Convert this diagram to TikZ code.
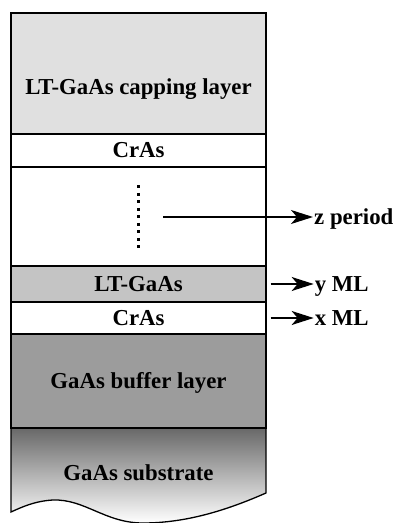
\documentclass[tikz,border=0pt]{standalone}
\usepackage{fontspec}
\setmainfont{Liberation Serif}
\definecolor{capgray}{RGB}{224,224,224}
\definecolor{ltgray}{RGB}{196,196,196}
\definecolor{buffgray}{RGB}{156,156,156}
\definecolor{subgray}{RGB}{104,104,104}
\usetikzlibrary{arrows.meta,positioning}

\begin{document}
\begin{tikzpicture}[x=1pt,y=1pt,
  layer/.style={draw,line width=1.3pt,minimum width=255pt,inner sep=0pt,
    text height=15pt,text depth=0pt,font=\fontsize{22.8}{27}\selectfont\bfseries},
  tag/.style={inner sep=1pt,text height=15pt,text depth=0pt,
    font=\fontsize{22.8}{27}\selectfont\bfseries},
  period/.style={-{Stealth[length=22pt,width=14pt,inset=6pt]},line width=1.7pt}
]
  \useasboundingbox (0,0) rectangle (398,523);
  % Substrate with wavy edge
  \shade[top color=subgray,bottom color=white,draw,line width=1.3pt]
    (11,95) -- (266,95) -- (266,30)
    .. controls (225,12) and (185,0) .. (143,0)
    .. controls (105,0) and (85,24) .. (53,23)
    .. controls (35,22) and (22,16) .. (11,11) -- cycle;
  \node[tag] (sub) at (138.5,49.5) {GaAs substrate};
  % Layer stack
  \node[layer,fill=buffgray,minimum height=94pt] (buff) at (138.5,142) {GaAs buffer layer};
  \node[layer,fill=white,minimum height=32pt] (cras2) at (138.5,205) {CrAs};
  \node[layer,fill=ltgray,minimum height=36pt] (lt) at (138.5,239) {LT-GaAs};
  \node[layer,fill=white,minimum height=99pt] (per) at (138.5,306.5) {};
  \node[layer,fill=white,minimum height=33pt] (cras1) at (138.5,372.5) {CrAs};
  \node[layer,fill=capgray,minimum height=121pt] (cap) at (138.5,449.5) {};
  \node[tag] (captext) at ([yshift=-13.5pt]cap.center) {LT-GaAs capping layer};
  % Repetition dots
  \draw[line width=3pt,dash pattern=on 3pt off 4.5pt] (138.5,337.5) -- (138.5,272);
  % Thickness labels
  \coordinate (zstart) at (163,306);
  \node[tag,anchor=west] (zper) at (313,306) {z period};
  \node[tag,right=47pt of lt] (yml) {y ML};
  \node[tag,right=47pt of cras2] (xml) {x ML};
  \draw[period] (zstart) -- (zper.west);
  \draw[period] ([xshift=4pt]lt.east) -- (yml.west);
  \draw[period] ([xshift=4pt]cras2.east) -- (xml.west);
\end{tikzpicture}
\end{document}
